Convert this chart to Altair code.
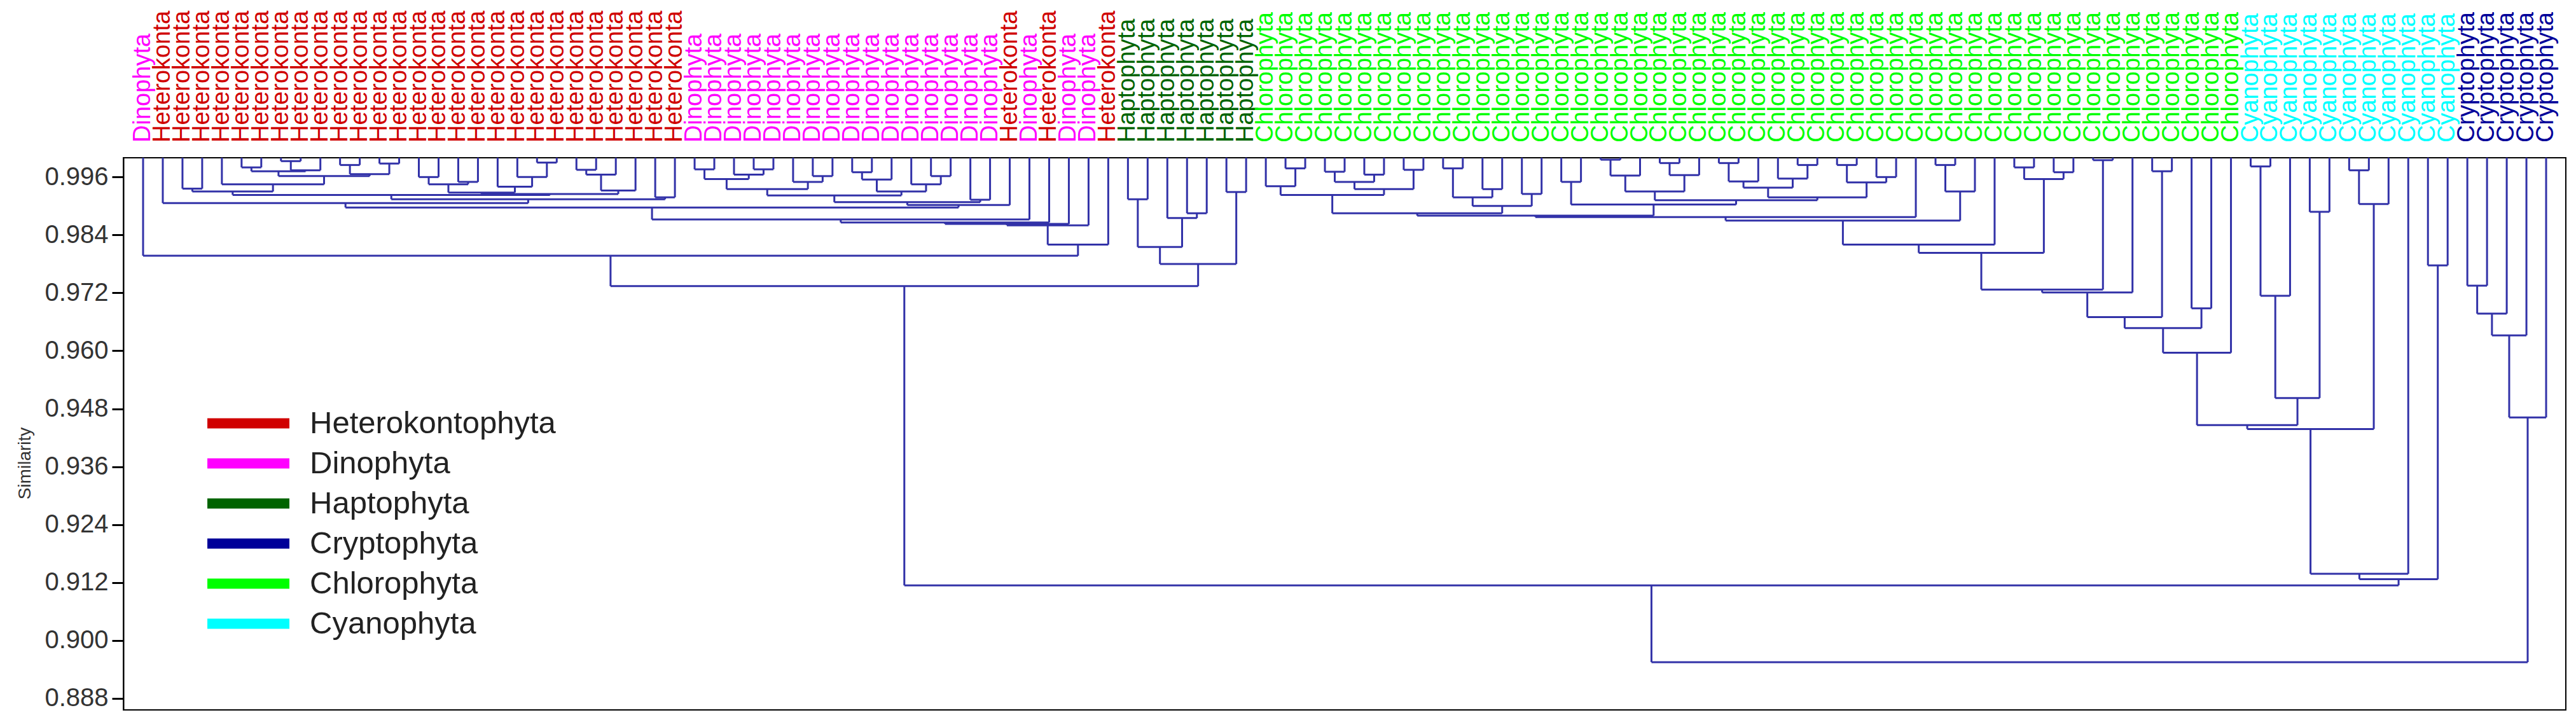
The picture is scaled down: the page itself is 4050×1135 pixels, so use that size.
import altair as alt
import pandas as pd

# ---------------- data ----------------
group_names = ["Heterokontophyta", "Dinophyta", "Haptophyta", "Cryptophyta", "Chlorophyta", "Cyanophyta"]
group_colors = ["#d00000", "#ff00ff", "#006400", "#000099", "#00ff00", "#00ffff"]
leaf_label_names = ["Heterokonta", "Dinophyta", "Haptophyta", "Cryptophyta", "Chlorophyta", "Cyanophyta"]

# leaf order (left to right) as runs of one group
run_groups = ["Dinophyta", "Heterokontophyta", "Dinophyta", "Heterokontophyta", "Dinophyta",
              "Heterokontophyta", "Dinophyta", "Heterokontophyta", "Haptophyta", "Chlorophyta",
              "Cyanophyta", "Cryptophyta"]
run_lengths = [1, 27, 16, 1, 1, 1, 2, 1, 7, 50, 11, 5]

y_ticks = [0.888, 0.900, 0.912, 0.924, 0.936, 0.948, 0.960, 0.972, 0.984, 0.996]

# clades: (similarity at merge, left, right); integers are leaf positions
h_a = (0.9930, (0.9936, 2, 3), (0.9945, 4, (0.9962, (0.9972, (0.9980, 5, 6), (0.9974, (0.9993, 7, 8), 9)),
                                              (0.9966, (0.9985, 10, 11), (0.9988, 12, 13)))))
h_b = (0.9928, (0.9945, (0.9960, 14, 15), (0.9950, 16, 17)), (0.9940, 18, (0.9960, 19, (0.9990, 20, 21))))
h_c = (0.9932, (0.9965, (0.9975, 22, 23), 24), 25)
hetero = (0.9906, 1, (0.9914, (0.9923, h_a, (0.9925, h_b, h_c)), (0.9918, 26, 27)))

d_1 = (0.9956, (0.9976, 28, 29), (0.9965, 30, (0.9976, 31, 32)))
d_2 = (0.9950, 33, (0.9962, 34, 35))
d_3 = (0.9930, (0.9955, (0.9970, 36, 37), 38), (0.9945, 39, (0.9962, 40, 41)))
dino = (0.9902, (0.9908, (0.9922, (0.9935, d_1, d_2), d_3), (0.9913, 42, 43)), 44)

het_dino = (0.9797, 0, (0.9820, (0.9860, (0.9863, (0.9866, (0.9872, (0.9897, hetero, dino), 45), 46), 47), 48), 49))

hapto = (0.9780, (0.9815, (0.9914, 50, 51), (0.9875, 52, (0.9885, 53, 54))), (0.9929, 55, 56))

chl_a = (0.9923, (0.9941, 57, (0.9978, 58, 59)),
         (0.9935, (0.9950, (0.9971, 60, 61), (0.9965, 62, 63)), (0.9975, 64, 65)))
chl_b = (0.9900, (0.9918, (0.9978, 66, 67), (0.9935, 68, 69)), (0.9925, 70, 71))
chl_c = (0.9930, (0.9963, (0.9996, 74, 75), 76), (0.9964, (0.9989, 77, 78), 79))
chl_d = (0.9918, (0.9938, (0.9951, (0.9989, 80, 81), 82), (0.9957, 83, (0.9985, 84, 85))),
         (0.9949, (0.9985, 86, 87), (0.9960, 88, 89)))
chl_core = (0.9880, (0.9885, chl_a, chl_b), (0.9903, (0.9950, 72, 73), (0.9912, chl_c, chl_d)))
chl_e = (0.9870, (0.9877, chl_core, 90), (0.9930, (0.9985, 91, 92), 93))
chloro = (0.9596, (0.9647, (0.9670, (0.9721, (0.9727, (0.9803, (0.9820, chl_e, 94),
                                                       (0.9956, (0.9980, 95, 96), (0.9970, 97, 98))),
                                              (0.9995, 99, 100)), 101),
                            (0.9972, 102, 103)), (0.9688, 104, 105)), 106)

cy_a = (0.9502, (0.9714, (0.9982, 107, 108), 109), (0.9888, 110, 111))
cy_b = (0.9904, (0.9974, 112, 113), 114)
cy_c = (0.9777, 116, 117)
green_blue = (0.9127, (0.9138, (0.9438, (0.9446, chloro, cy_a), cy_b), 115), cy_c)

crypto = (0.9462, (0.9632, (0.9677, (0.9735, 118, 119), 120), 121), 122)

tree = (0.8955, (0.9114, (0.9734, het_dino, hapto), green_blue), crypto)

# ---------------- build tables ----------------
leaf_group = []
for g, n in zip(run_groups, run_lengths):
    leaf_group += [g] * n
name_of = dict(zip(group_names, leaf_label_names))
leaf_df = pd.DataFrame({
    "pos": list(range(len(leaf_group))),
    "group": leaf_group,
    "label": [name_of[g] for g in leaf_group],
})

segments = []
TOP = 1.0


def walk(node):
    if isinstance(node, int):
        return float(node), TOP
    h, left, right = node
    xl, yl = walk(left)
    xr, yr = walk(right)
    segments.append({"x": xl, "x2": xl, "y": yl, "y2": h})
    segments.append({"x": xr, "x2": xr, "y": yr, "y2": h})
    segments.append({"x": xl, "x2": xr, "y": h, "y2": h})
    return (xl + xr) / 2.0, h


walk(tree)
seg_df = pd.DataFrame(segments)

# ---------------- chart ----------------
FONT = "Liberation Sans"
x_scale = alt.Scale(domain=[-1, 123], nice=False, zero=False)
y_scale = alt.Scale(domain=[0.8856, 1.0], nice=False, zero=False)

rules = alt.Chart(seg_df).mark_rule(color="#3232a8", strokeWidth=3).encode(
    x=alt.X("x:Q", scale=x_scale, axis=None),
    x2="x2:Q",
    y=alt.Y("y:Q", scale=y_scale, axis=alt.Axis(
        values=y_ticks, format=".3f", title="Similarity",
        titleFont=FONT, titleFontSize=28, titleFontWeight="normal", titleColor="#333333",
        titleAngle=270, titleX=-155, titleY=480, titleAlign="center", titleBaseline="middle",
        labelFont=FONT, labelFontSize=40, labelColor="#333333", labelPadding=6,
        tickSize=18, tickWidth=3, tickColor="black", domainColor="black", domainWidth=2,
        grid=False)),
    y2="y2:Q",
)

# wide flat bar as legend symbol (path extends beyond the unit box)
bar_path = "M-4,-0.5H4V0.5H-4Z"

labels = alt.Chart(leaf_df).mark_text(
    angle=270, align="left", baseline="middle", font=FONT, fontSize=38
).encode(
    x=alt.X("pos:Q", scale=x_scale, axis=None),
    y=alt.value(-24),
    text="label:N",
    color=alt.Color("group:N", scale=alt.Scale(domain=group_names, range=group_colors),
                    legend=alt.Legend(title=None, orient="none", legendX=172, legendY=393,
                                      symbolType=bar_path, symbolSize=1040,
                                      symbolStrokeWidth=0, symbolOpacity=1,
                                      labelFont=FONT, labelFontSize=49, labelColor="#222222",
                                      labelLimit=0, labelOffset=72, rowPadding=13)),
)

chart = alt.layer(rules, labels).properties(
    width=3840, height=868,
    autosize=alt.AutoSizeParams(type="none"),
    padding={"left": 186, "top": 240, "right": 8, "bottom": 10},
).configure_view(stroke="black", strokeWidth=2)

chart.save("out.html", embed_options={"renderer": "svg", "actions": False})
